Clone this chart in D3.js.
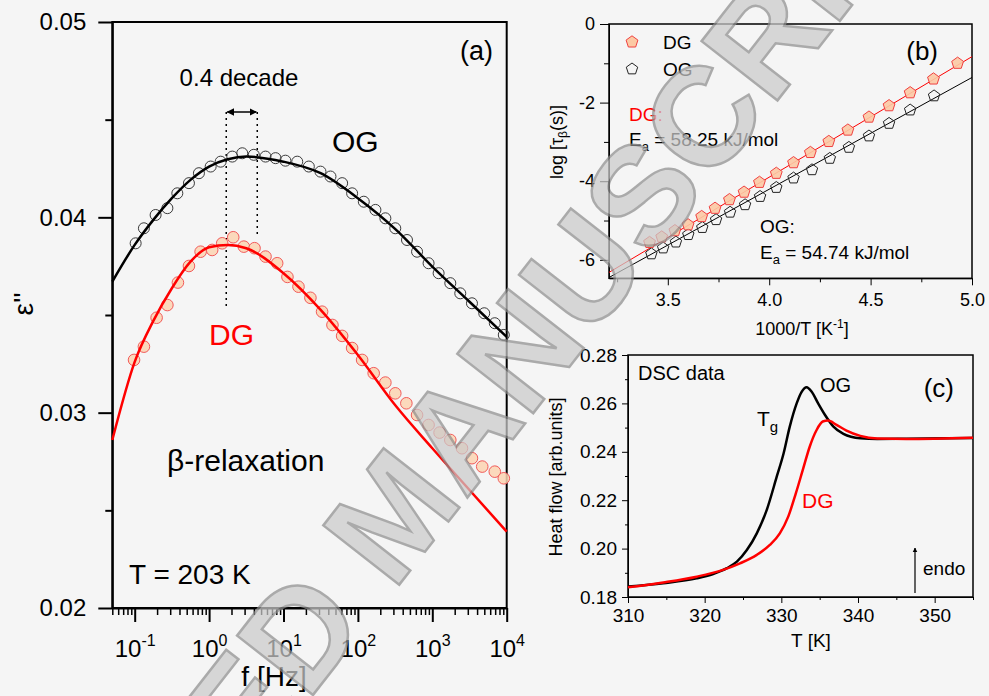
<!DOCTYPE html>
<html>
<head>
<meta charset="utf-8">
<script src="https://cdn.jsdelivr.net/npm/d3@7"></script>
<style>
	body { margin: 0; background: #f5f5f5; }
	svg { font-family: "Liberation Sans", Arial, sans-serif; }
	.axis path, .axis line { stroke: #000; }
</style>
</head>
<body>
<svg id="chart" width="989" height="696"></svg>
<script>
// ---- panel (a): dielectric loss at T = 203 K ----
var ogFreq = [0.103, 0.133, 0.191, 0.275, 0.374, 0.536, 0.730, 1.05, 1.43, 2.05, 2.79, 3.99, 5.73, 7.82, 10.6, 15.3, 21.9, 31.4, 42.8, 61.4, 83.6, 120, 172, 234, 318, 457, 624, 891, 1216, 1746, 2377, 3412, 4989, 6918, 9141];
var ogEps = [0.03867, 0.03944, 0.04012, 0.04047, 0.04123, 0.04175, 0.04226, 0.04260, 0.04285, 0.04311, 0.04328, 0.04320, 0.04311, 0.04303, 0.04290, 0.04285, 0.04260, 0.04234, 0.04209, 0.04175, 0.04123, 0.04080, 0.04038, 0.03995, 0.03944, 0.03884, 0.03824, 0.03765, 0.03714, 0.03663, 0.03611, 0.03560, 0.03509, 0.03458, 0.03398];
var dgFreq = [0.098, 0.133, 0.197, 0.275, 0.381, 0.536, 0.769, 1.10, 1.50, 2.11, 2.93, 4.08, 5.73, 8.22, 11.3, 15.9, 23.0, 33.0, 45.5, 61.4, 83.6, 114, 163, 234, 318, 448, 624, 891, 1253, 1746, 2506, 3412, 4688, 6918, 9141];
var dgEps = [0.03270, 0.03338, 0.03486, 0.03551, 0.03666, 0.03751, 0.03824, 0.03833, 0.03867, 0.03898, 0.03850, 0.03842, 0.03799, 0.03765, 0.03695, 0.03645, 0.03588, 0.03517, 0.03449, 0.03393, 0.03331, 0.03270, 0.03202, 0.03154, 0.03099, 0.03048, 0.02988, 0.02937, 0.02898, 0.02860, 0.02818, 0.02767, 0.02724, 0.02698, 0.02664];
var fitFreq = [0.05, 0.1, 0.178, 0.316, 0.562, 1, 1.78, 3.16, 10, 31.6, 100, 316, 1000, 3162, 10000];
var ogFit = [0.03671, 0.03859, 0.03987, 0.04098, 0.04192, 0.04260, 0.04297, 0.04311, 0.04285, 0.04226, 0.04098, 0.03941, 0.03748, 0.03568, 0.03388];
var dgFit = [0.02860, 0.03260, 0.03470, 0.03637, 0.03773, 0.03847, 0.03859, 0.03842, 0.03714, 0.03526, 0.03295, 0.03039, 0.02818, 0.02604, 0.02391];
var peakMarks = [1.70, 4.44];   // dotted lines, 0.4 decade apart
var peakMarkBottom = [0.03539, 0.03910];

// ---- panel (b): activation plot ----
var dgInvT = [3.41, 3.47, 3.535, 3.60, 3.667, 3.733, 3.804, 3.876, 3.952, 4.035, 4.12, 4.203, 4.294, 4.388, 4.492, 4.591, 4.695, 4.81, 4.929];
var dgLogTau = [-5.56, -5.42, -5.26, -5.11, -4.90, -4.69, -4.47, -4.28, -4.03, -3.80, -3.53, -3.27, -2.99, -2.70, -2.37, -2.08, -1.75, -1.40, -1.00];
var ogInvT = [3.419, 3.477, 3.54, 3.601, 3.67, 3.738, 3.807, 3.881, 3.955, 4.035, 4.12, 4.211, 4.299, 4.393, 4.492, 4.591, 4.695, 4.813];
var ogLogTau = [-5.85, -5.70, -5.55, -5.36, -5.18, -4.98, -4.79, -4.60, -4.39, -4.16, -3.92, -3.71, -3.42, -3.14, -2.85, -2.53, -2.19, -1.83];
var lineInvT = [3.21, 5.0];
var dgLine = [-6.32, -0.83];
var ogLine = [-6.45, -1.36];

// ---- panel (c): DSC ----
var ogT = [310, 314.6, 318.96, 321.1, 322.9, 324.2, 325.5, 326.8, 328.1, 329.4, 330.3, 331.1, 332.0, 332.65, 333.3, 333.96, 334.8, 335.7, 336.8, 338.1, 340.3, 342.5, 346.3, 355];
var ogHeat = [0.1843, 0.1857, 0.1877, 0.1895, 0.1919, 0.1946, 0.1994, 0.2063, 0.2160, 0.2297, 0.2394, 0.2504, 0.2600, 0.2648, 0.2667, 0.2648, 0.2600, 0.2552, 0.2504, 0.2474, 0.2456, 0.2453, 0.2454, 0.2457];
var dgT = [310, 314.6, 318.96, 322.4, 324.6, 326.8, 328.5, 329.8, 330.9, 331.9, 332.8, 333.7, 334.6, 335.4, 336.1, 337.2, 338.5, 340.3, 342.5, 346.3, 355];
var dgHeat = [0.1840, 0.1860, 0.1884, 0.1912, 0.1939, 0.1974, 0.2015, 0.2063, 0.2132, 0.2229, 0.2325, 0.2421, 0.2490, 0.2525, 0.2529, 0.2511, 0.2488, 0.2466, 0.2455, 0.2453, 0.2458];

var RED = "#ff0000";
var svg = d3.select("#chart");

function zip(xs, ys) {
	return xs.map(function (x, i) { return [x, ys[i]]; });
}

function pentagon(r) {
	var pts = [];
	for (var k = 0; k < 5; k++) {
		var a = -Math.PI / 2 + k * 2 * Math.PI / 5;
		pts.push([r * Math.cos(a), r * Math.sin(a)]);
	}
	return "M" + pts.join("L") + "Z";
}

/* ------- PANEL A ------- */
var xA = d3.scaleLog().domain([0.05, 1e4]).range([112.3, 506.7]);
var yA = d3.scaleLinear().domain([0.02, 0.05]).range([608, 22]);

var gA = svg.append("g");

// minor ticks
var minorX = xA.ticks().filter(function (t) { return Math.abs(Math.log10(t) % 1) > 1e-6; });
gA.append("g").attr("class", "axis")
	.attr("transform", "translate(0,608)")
	.call(d3.axisBottom(xA).tickValues(minorX).tickSize(7).tickFormat(""))
	.call(function (g) { g.select(".domain").remove(); g.selectAll("line").attr("stroke-width", 1.5); });

var xAxisA = gA.append("g").attr("class", "axis")
	.attr("transform", "translate(0,608)")
	.call(d3.axisBottom(xA).tickValues([0.1, 1, 10, 100, 1000, 10000]).tickSize(14).tickSizeOuter(0).tickFormat(""));
xAxisA.select(".domain").attr("stroke-width", 2);
xAxisA.selectAll("line").attr("stroke-width", 2);
xAxisA.selectAll(".tick").append("text")
	.attr("y", 49).attr("fill", "#000").attr("text-anchor", "middle")
	.attr("font-size", 24)
	.each(function (d) {
		var t = d3.select(this);
		t.append("tspan").text("10");
		t.append("tspan").attr("dy", -11).attr("font-size", 16).text(Math.round(Math.log10(d)));
	});

gA.append("g").attr("class", "axis")
	.attr("transform", "translate(112.3,0)")
	.call(d3.axisLeft(yA).tickValues([0.025, 0.035, 0.045]).tickSize(7).tickFormat(""))
	.call(function (g) { g.select(".domain").remove(); g.selectAll("line").attr("stroke-width", 2); });

var yAxisA = gA.append("g").attr("class", "axis")
	.attr("transform", "translate(112.3,0)")
	.call(d3.axisLeft(yA).tickValues([0.02, 0.03, 0.04, 0.05]).tickSize(14).tickSizeOuter(0).tickPadding(12).tickFormat(d3.format(".2f")));
yAxisA.select(".domain").attr("stroke-width", 2);
yAxisA.selectAll("line").attr("stroke-width", 2);
yAxisA.selectAll("text").attr("font-size", 24).attr("font-family", "Liberation Sans, Arial, sans-serif");

gA.append("rect")
	.attr("x", 112.3).attr("y", 22).attr("width", 506.7 - 112.3).attr("height", 608 - 22)
	.attr("fill", "none").attr("stroke", "#000").attr("stroke-width", 2);

// dotted markers
gA.selectAll("line.mark").data(zip(peakMarks, peakMarkBottom)).enter()
	.append("line").attr("class", "mark")
	.attr("x1", function (d) { return xA(d[0]); }).attr("x2", function (d) { return xA(d[0]); })
	.attr("y1", 112).attr("y2", function (d) { return yA(d[1]); })
	.attr("stroke", "#000").attr("stroke-width", 1.5).attr("stroke-dasharray", "2,4");

var defs = svg.append("defs");
defs.append("marker").attr("id", "ah").attr("viewBox", "0 0 10 10")
	.attr("refX", 9).attr("refY", 5).attr("markerWidth", 5).attr("markerHeight", 5)
	.attr("orient", "auto-start-reverse")
	.append("path").attr("d", "M0,0L10,5L0,10Z").attr("fill", "#000");
defs.append("marker").attr("id", "ah2").attr("viewBox", "0 0 10 10")
	.attr("refX", 9).attr("refY", 5).attr("markerWidth", 4).attr("markerHeight", 6)
	.attr("orient", "auto")
	.append("path").attr("d", "M0,0L10,5L0,10Z").attr("fill", "#000");

gA.append("line")
	.attr("x1", xA(peakMarks[0]) + 1).attr("x2", xA(peakMarks[1]) - 1)
	.attr("y1", 112).attr("y2", 112)
	.attr("stroke", "#000").attr("stroke-width", 1.5)
	.attr("marker-start", "url(#ah)").attr("marker-end", "url(#ah)");

var lineA = d3.line()
	.x(function (d) { return xA(d[0]); })
	.y(function (d) { return yA(d[1]); })
	.curve(d3.curveMonotoneX);

// data points
gA.selectAll("circle.og").data(zip(ogFreq, ogEps)).enter()
	.append("circle").attr("class", "og")
	.attr("cx", function (d) { return xA(d[0]); })
	.attr("cy", function (d) { return yA(d[1]); })
	.attr("r", 5.5).attr("fill", "none").attr("stroke", "#3a3a3a").attr("stroke-width", 1);

gA.selectAll("circle.dg").data(zip(dgFreq, dgEps)).enter()
	.append("circle").attr("class", "dg")
	.attr("cx", function (d) { return xA(d[0]); })
	.attr("cy", function (d) { return yA(d[1]); })
	.attr("r", 5.8).attr("fill", "#fcd3b2").attr("fill-opacity", 0.85)
	.attr("stroke", "#f25a5a").attr("stroke-width", 1);

gA.append("path").datum(zip(fitFreq, ogFit)).attr("d", lineA)
	.attr("fill", "none").attr("stroke", "#000").attr("stroke-width", 2.5);
gA.append("path").datum(zip(fitFreq, dgFit)).attr("d", lineA)
	.attr("fill", "none").attr("stroke", RED).attr("stroke-width", 2.5);

// labels
function label(g, x, y, txt, size, color, anchor) {
	return g.append("text").attr("x", x).attr("y", y).attr("font-size", size)
		.attr("fill", color || "#000").attr("text-anchor", anchor || "start").text(txt);
}
label(gA, 239, 86, "0.4 decade", 24, "#000", "middle");
label(gA, 493, 60, "(a)", 27, "#000", "end");
label(gA, 332, 152, "OG", 30);
label(gA, 209, 345, "DG", 30, RED);
label(gA, 167, 471, "β-relaxation", 30);
label(gA, 129, 584, "T = 203 K", 28);
label(gA, 274, 686, "f [Hz]", 28, "#000", "middle");
gA.append("text").attr("transform", "translate(33,304) rotate(-90)")
	.attr("font-size", 28).attr("text-anchor", "middle").text("ε''");

/* ------- PANEL B ------- */
var xB = d3.scaleLinear().domain([3.21, 5.0]).range([609, 972]);
var yB = d3.scaleLinear().domain([-6.47, 0]).range([278.3, 24]);
var gB = svg.append("g");

gB.append("g").attr("class", "axis").attr("transform", "translate(0,278.3)")
	.call(d3.axisBottom(xB).tickValues([3.25, 3.75, 4.25, 4.75]).tickSize(4).tickFormat(""))
	.call(function (g) { g.select(".domain").remove(); });
var xAxisB = gB.append("g").attr("class", "axis").attr("transform", "translate(0,278.3)")
	.call(d3.axisBottom(xB).tickValues([3.5, 4.0, 4.5, 5.0]).tickSize(7).tickSizeOuter(0).tickPadding(8).tickFormat(d3.format(".1f")));
xAxisB.selectAll("text").attr("font-size", 18).attr("font-family", "Liberation Sans, Arial, sans-serif");

gB.append("g").attr("class", "axis").attr("transform", "translate(609,0)")
	.call(d3.axisLeft(yB).tickValues([-1, -3, -5]).tickSize(5).tickFormat(""))
	.call(function (g) { g.select(".domain").remove(); });
var yAxisB = gB.append("g").attr("class", "axis").attr("transform", "translate(609,0)")
	.call(d3.axisLeft(yB).tickValues([0, -2, -4, -6]).tickSize(9).tickSizeOuter(0).tickPadding(5)
		.tickFormat(function (d) { return String(d); }));
yAxisB.selectAll("text").attr("font-size", 18).attr("font-family", "Liberation Sans, Arial, sans-serif");

gB.append("rect").attr("x", 609).attr("y", 24).attr("width", 972 - 609).attr("height", 278.3 - 24)
	.attr("fill", "none").attr("stroke", "#000").attr("stroke-width", 1.5);

var lineB = d3.line()
	.x(function (d) { return xB(d[0]); })
	.y(function (d) { return yB(d[1]); });

gB.append("path").datum(zip(lineInvT, ogLine)).attr("d", lineB)
	.attr("stroke", "#000").attr("stroke-width", 1).attr("fill", "none");
gB.append("path").datum(zip(lineInvT, dgLine)).attr("d", lineB)
	.attr("stroke", RED).attr("stroke-width", 1).attr("fill", "none");

gB.selectAll("path.ogp").data(zip(ogInvT, ogLogTau)).enter()
	.append("path").attr("class", "ogp")
	.attr("transform", function (d) { return "translate(" + xB(d[0]) + "," + yB(d[1]) + ")"; })
	.attr("d", pentagon(6)).attr("fill", "none").attr("stroke", "#222").attr("stroke-width", 1);
gB.selectAll("path.dgp").data(zip(dgInvT, dgLogTau)).enter()
	.append("path").attr("class", "dgp")
	.attr("transform", function (d) { return "translate(" + xB(d[0]) + "," + yB(d[1]) + ")"; })
	.attr("d", pentagon(6.2)).attr("fill", "#fcc9a4").attr("fill-opacity", 0.9)
	.attr("stroke", "#f04040").attr("stroke-width", 1);

// legend
gB.append("path").attr("transform", "translate(632,42)").attr("d", pentagon(6.2))
	.attr("fill", "#fcc9a4").attr("stroke", "#f04040");
gB.append("path").attr("transform", "translate(632,69)").attr("d", pentagon(6))
	.attr("fill", "none").attr("stroke", "#222");
label(gB, 663, 49, "DG", 19);
label(gB, 663, 76, "OG", 19);
label(gB, 938, 60, "(b)", 26, "#000", "end");
label(gB, 629, 121, "DG:", 19, RED);
label(gB, 760, 233, "OG:", 19);

function eaLabel(g, x, y, txt) {
	var t = g.append("text").attr("x", x).attr("y", y).attr("font-size", 19);
	t.append("tspan").text("E");
	t.append("tspan").attr("dy", 5).attr("font-size", 13).text("a");
	t.append("tspan").attr("dy", -5).text(" = " + txt);
}
eaLabel(gB, 629, 146, "58.25 kJ/mol");
eaLabel(gB, 760, 259, "54.74 kJ/mol");

var xlB = gB.append("text").attr("x", 802).attr("y", 335).attr("font-size", 18).attr("text-anchor", "middle");
xlB.append("tspan").text("1000/T [K");
xlB.append("tspan").attr("dy", -7).attr("font-size", 12).text("-1");
xlB.append("tspan").attr("dy", 7).text("]");

var ylB = gB.append("text").attr("transform", "translate(563,142) rotate(-90)")
	.attr("font-size", 18).attr("text-anchor", "middle");
ylB.append("tspan").text("log [τ");
ylB.append("tspan").attr("dy", 4).attr("font-size", 12).text("β");
ylB.append("tspan").attr("dy", -4).text("(s)]");

/* ------- PANEL C ------- */
var xC = d3.scaleLinear().domain([310, 355]).range([628, 973]);
var yC = d3.scaleLinear().domain([0.18, 0.28]).range([597, 355]);
var gC = svg.append("g");

gC.append("g").attr("class", "axis").attr("transform", "translate(0,597)")
	.call(d3.axisBottom(xC).tickValues([315, 325, 335, 345, 355]).tickSize(3).tickFormat(""))
	.call(function (g) { g.select(".domain").remove(); });
var xAxisC = gC.append("g").attr("class", "axis").attr("transform", "translate(0,597)")
	.call(d3.axisBottom(xC).tickValues([310, 320, 330, 340, 350]).tickSize(6).tickSizeOuter(0).tickPadding(6));
xAxisC.selectAll("text").attr("font-size", 19).attr("font-family", "Liberation Sans, Arial, sans-serif");

gC.append("g").attr("class", "axis").attr("transform", "translate(628,0)")
	.call(d3.axisLeft(yC).tickValues([0.19, 0.21, 0.23, 0.25, 0.27]).tickSize(3).tickFormat(""))
	.call(function (g) { g.select(".domain").remove(); });
var yAxisC = gC.append("g").attr("class", "axis").attr("transform", "translate(628,0)")
	.call(d3.axisLeft(yC).tickValues([0.18, 0.20, 0.22, 0.24, 0.26, 0.28]).tickSize(6).tickSizeOuter(0).tickPadding(5).tickFormat(d3.format(".2f")));
yAxisC.selectAll("text").attr("font-size", 19).attr("font-family", "Liberation Sans, Arial, sans-serif");

gC.append("rect").attr("x", 628).attr("y", 355).attr("width", 973 - 628).attr("height", 597 - 355)
	.attr("fill", "none").attr("stroke", "#000").attr("stroke-width", 1.5);

var lineC = d3.line()
	.x(function (d) { return xC(d[0]); })
	.y(function (d) { return yC(d[1]); })
	.curve(d3.curveMonotoneX);
gC.append("path").datum(zip(ogT, ogHeat)).attr("d", lineC)
	.attr("fill", "none").attr("stroke", "#000").attr("stroke-width", 2.5);
gC.append("path").datum(zip(dgT, dgHeat)).attr("d", lineC)
	.attr("fill", "none").attr("stroke", RED).attr("stroke-width", 2.5);

label(gC, 638, 380, "DSC data", 20);
label(gC, 820, 392, "OG", 20);
label(gC, 954, 397, "(c)", 26, "#000", "end");
label(gC, 802, 508, "DG", 21, RED);
label(gC, 923, 575, "endo", 19);
var tg = gC.append("text").attr("x", 757).attr("y", 426).attr("font-size", 21);
tg.append("tspan").text("T");
tg.append("tspan").attr("dy", 6).attr("font-size", 15).text("g");
gC.append("line").attr("x1", 915).attr("x2", 915).attr("y1", 593).attr("y2", 548)
	.attr("stroke", "#000").attr("stroke-width", 1.2).attr("marker-end", "url(#ah2)");
label(gC, 811, 647, "T [K]", 19, "#000", "middle");
gC.append("text").attr("transform", "translate(562,477) rotate(-90)")
	.attr("font-size", 18).attr("text-anchor", "middle").text("Heat flow [arb.units]");

/* ------- WATERMARK ------- */
svg.append("text")
	.attr("transform", "translate(392,512) rotate(-52)")
	.attr("text-anchor", "middle").attr("dy", "0.36em")
	.attr("font-size", 140).attr("font-weight", "bold")
	.attr("fill", "#cbcbcb").attr("stroke", "#8e8e8e").attr("stroke-width", 2.5)
	.attr("opacity", 0.72)
	.text("ACCEPTED MANUSCRIPT");
</script>
</body>
</html>
